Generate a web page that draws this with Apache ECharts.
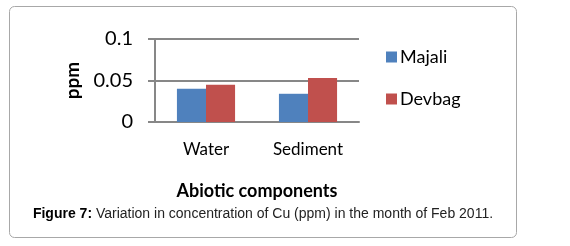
<!DOCTYPE html>
<html>
<head>
<meta charset="utf-8">
<script src="https://cdn.jsdelivr.net/npm/echarts@6/dist/echarts.min.js"></script>
<style>
  html, body { margin: 0; padding: 0; background: #fff; }
  #chart { width: 570px; height: 246px; }
</style>
</head>
<body>
<div id="chart"></div>
<script>
const categories = ['Water', 'Sediment']
const majali = [0.04, 0.034]
const devbag = [0.045, 0.053]
const yTicks = { min: 0, max: 0.1, interval: 0.05 }

const font = 'Lato, "Open Sans", sans-serif'
const capFont = '"Liberation Sans", Arial, sans-serif'
const axisGray = '#878787'

const chart = echarts.init(document.getElementById('chart'))
chart.setOption({
  backgroundColor: '#fff',
  animation: false,
  graphic: [
    {
      type: 'rect',
      shape: { x: 9.5, y: 6.5, width: 507, height: 231, r: 5 },
      style: { fill: 'none', stroke: '#a8a8a8', lineWidth: 1 },
      z: -1,
    },
  ],
  title: {
    text: '{b|Figure 7:}{n| Variation in concentration of Cu (ppm) in the month of Feb 2011.}',
    left: 258,
    textAlign: 'center',
    top: 202,
    textStyle: {
      fontWeight: 'normal',
      rich: {
        b: { fontFamily: capFont, fontWeight: 'bold', fontSize: 14, color: '#000' },
        n: { fontFamily: capFont, fontWeight: 'normal', fontSize: 14, color: '#222' },
      },
    },
  },
  legend: {
    orient: 'vertical',
    left: 381,
    top: 43,
    itemWidth: 11,
    itemHeight: 11,
    itemGap: 24,
    icon: 'rect',
    textStyle: { fontFamily: font, fontSize: 18, color: '#000', padding: [0, 0, 0, -2] },
  },
  grid: { left: 155, right: 211, top: 39, bottom: 124 },
  xAxis: {
    type: 'category',
    data: categories,
    name: 'Abiotic components',
    nameLocation: 'middle',
    nameGap: 60,
    nameTextStyle: { fontFamily: font, fontSize: 18, fontWeight: 'bold', color: '#000' },
    axisLine: { lineStyle: { color: axisGray, width: 2 } },
    axisTick: { show: false },
    axisLabel: { fontFamily: font, fontSize: 17, color: '#000', margin: 19 },
  },
  yAxis: {
    type: 'value',
    min: yTicks.min,
    max: yTicks.max,
    interval: yTicks.interval,
    name: 'ppm',
    nameLocation: 'middle',
    nameRotate: 90,
    nameGap: 73,
    nameTextStyle: { fontFamily: font, fontSize: 19, fontWeight: 'bold', color: '#000' },
    axisLine: { show: true, lineStyle: { color: axisGray, width: 2 } },
    axisTick: { show: true, length: 7, lineStyle: { color: axisGray, width: 2 } },
    axisLabel: { fontFamily: font, fontSize: 20, color: '#000', margin: 22 },
    splitLine: { lineStyle: { color: axisGray, width: 2 } },
  },
  series: [
    {
      type: 'bar',
      name: 'Majali',
      data: majali,
      barGap: '0%',
      barCategoryGap: '43%',
      itemStyle: { color: '#4F81BD' },
    },
    {
      type: 'bar',
      name: 'Devbag',
      data: devbag,
      itemStyle: { color: '#C0504D' },
    },
  ],
})
</script>
</body>
</html>
